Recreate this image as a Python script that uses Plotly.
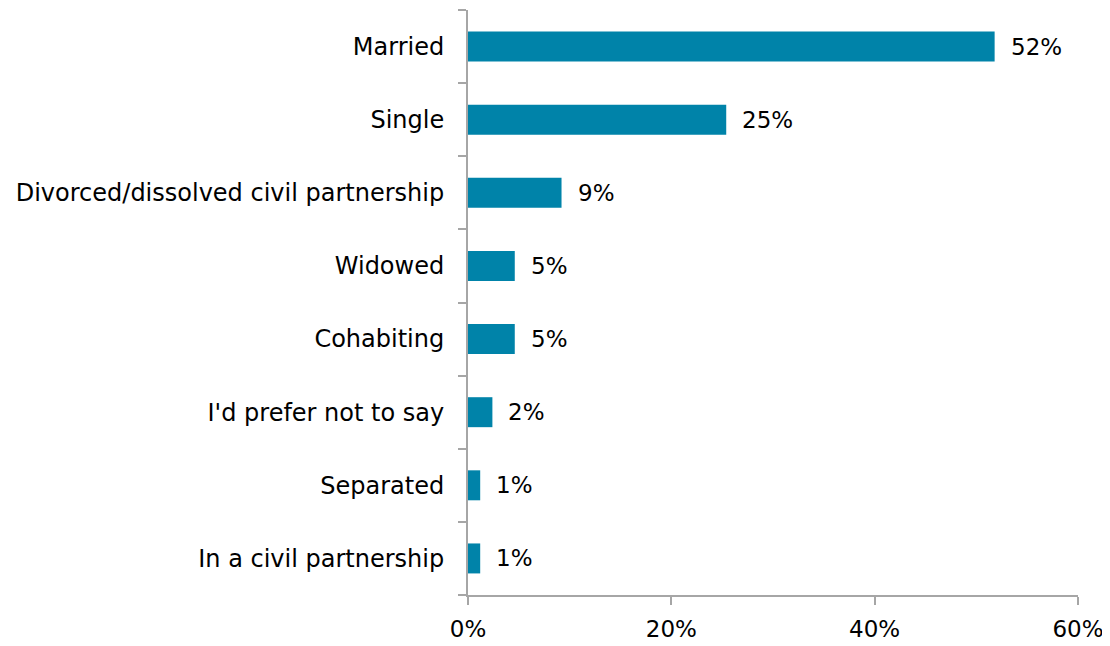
import plotly.graph_objects as go

categories = ["Married", "Single", "Divorced/dissolved civil partnership", "Widowed",
              "Cohabiting", "I'd prefer not to say", "Separated", "In a civil partnership"]
values = [51.8, 25.4, 9.2, 4.6, 4.6, 2.4, 1.2, 1.2]
labels = ["52%", "25%", "9%", "5%", "5%", "2%", "1%", "1%"]
x_ticks = [0, 20, 40, 60]
x_tick_labels = ["0%", "20%", "40%", "60%"]

FONT = "DejaVu Sans"
FS = 24
BAR = "#0083A9"
AXIS = "#A6A6A6"

fig = go.Figure(go.Bar(
    x=values, y=categories, orientation="h",
    marker=dict(color=BAR, line=dict(width=0)),
    width=0.41,
))

for c, v, t in zip(categories, values, labels):
    fig.add_annotation(x=v, y=c, text=t, showarrow=False, xanchor="left",
                       xshift=14, font=dict(family=FONT, size=FS - 1, color="#000000"))

fig.update_layout(
    width=1102, height=638,
    margin=dict(l=460, r=32, t=2, b=51),
    paper_bgcolor="white", plot_bgcolor="white",
    showlegend=False,
    font=dict(family=FONT, size=FS, color="#000000"),
)
fig.update_xaxes(range=[0, 60], tickvals=x_ticks, ticktext=x_tick_labels,
                 showgrid=False, zeroline=False, showline=True, linecolor=AXIS, linewidth=2,
                 ticks="outside", ticklen=8, tickcolor=AXIS, tickwidth=2,
                 ticklabelstandoff=4, tickfont=dict(family=FONT, size=FS - 1))
fig.update_yaxes(categoryorder="array", categoryarray=categories[::-1],
                 autorange=True, showgrid=False, zeroline=False,
                 showline=True, linecolor=AXIS, linewidth=2,
                 ticks="outside", ticklen=8, tickcolor=AXIS, tickwidth=2,
                 tickson="boundaries", ticklabelstandoff=17,
                 tickfont=dict(family=FONT, size=FS))

fig.write_html("out.html")
